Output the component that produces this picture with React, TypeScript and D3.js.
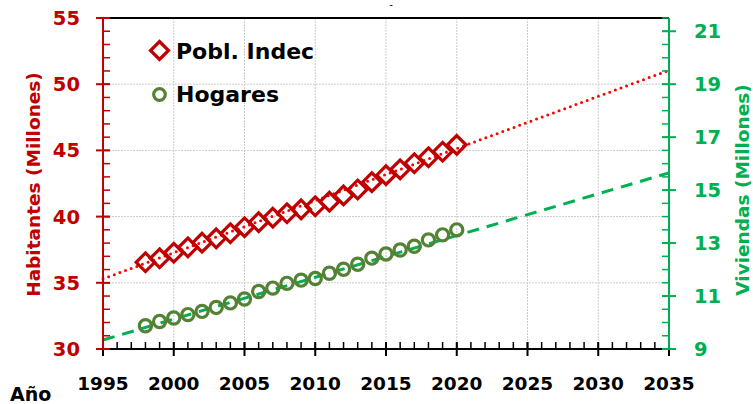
import React from "react";
import * as d3 from "d3";

const years = [1998,1999,2000,2001,2002,2003,2004,2005,2006,2007,2008,2009,2010,2011,2012,2013,2014,2015,2016,2017,2018,2019,2020];
const poblIndec = [36.55,36.85,37.27,37.68,38.03,38.36,38.74,39.2,39.58,39.92,40.25,40.55,40.78,41.13,41.6,42.05,42.6,43.13,43.57,44.03,44.48,44.9,45.42];
const hogares = [9.88,10.04,10.17,10.3,10.42,10.57,10.74,10.89,11.17,11.3,11.48,11.6,11.66,11.86,12.01,12.2,12.43,12.59,12.74,12.88,13.12,13.31,13.5];
const trendYears = [1995, 2035];
const poblTrend = [35.3, 51.05];
const hogaresTrend = [9.34, 15.65];
const xTicks = [1995,2000,2005,2010,2015,2020,2025,2030,2035];
const yLeftTicks = [30,35,40,45,50,55];
const yRightTicks = [9,11,13,15,17,19,21];
const legendLabels = ["Pobl. Indec", "Hogares"];

const W = 753, H = 404;
const L = 103, R = 669, T = 18, B = 349;
const FONT = "'DejaVu Sans', sans-serif";
const RED = "#C00000", GREEN = "#00B050", OLIVE = "#548235";

export default function App() {
  const x = d3.scaleLinear().domain([1995, 2035]).range([L, R]);
  const yL = d3.scaleLinear().domain([30, 55]).range([B, T]);
  const yR = d3.scaleLinear().domain([9, 21.5]).range([B, T]);
  const xMinor = d3.range(1995, 2036, 1);
  const yLMinor = d3.range(30, 56, 1);
  const yRMinor = d3.range(9, 21.51, 0.5);

  const popLine = d3.line<number>().x((_, i) => x(trendYears[i])).y((d) => yL(d));
  const hogLine = d3.line<number>().x((_, i) => x(trendYears[i])).y((d) => yR(d));
  const diamond = (cx: number, cy: number, r: number) =>
    `M${cx},${cy - r}L${cx + r},${cy}L${cx},${cy + r}L${cx - r},${cy}Z`;

  return (
    <svg width={W} height={H} style={{ position: "absolute", left: 0, top: 0, background: "#fff" }} fontFamily={FONT}>
      {/* grid */}
      {xTicks.filter((t) => t > 1995 && t < 2035).map((t) => (
        <line key={"gx" + t} x1={x(t)} x2={x(t)} y1={T} y2={B} stroke="#CCCCCC" strokeWidth={1} strokeDasharray="2,1" />
      ))}
      {yLeftTicks.filter((t) => t > 30 && t < 55).map((t) => (
        <line key={"gy" + t} x1={L} x2={R} y1={yL(t)} y2={yL(t)} stroke="#CCCCCC" strokeWidth={1} strokeDasharray="2,1" />
      ))}
      {/* top border */}
      <line x1={L} x2={R} y1={T} y2={T} stroke="#000" strokeWidth={2} />
      {/* tiny title dash */}
      <text x={391} y={8} fontSize={10} textAnchor="middle" fill="#000">-</text>

      {/* trend lines */}
      <path d={popLine(poblTrend) || ""} fill="none" stroke="#FF0000" strokeWidth={3} strokeDasharray="0,6" strokeLinecap="round" />
      <path d={hogLine(hogaresTrend) || ""} fill="none" stroke={GREEN} strokeWidth={3} strokeDasharray="12,8" />

      {/* markers */}
      {years.map((yr, i) => (
        <path key={"d" + yr} d={diamond(x(yr), yL(poblIndec[i]), 9.3)} fill="none" stroke={RED} strokeWidth={3.2} />
      ))}
      {years.map((yr, i) => (
        <circle key={"c" + yr} cx={x(yr)} cy={yR(hogares[i])} r={6.1} fill="none" stroke={OLIVE} strokeWidth={3.2} />
      ))}

      {/* x axis */}
      <line x1={L} x2={R} y1={B} y2={B} stroke="#000" strokeWidth={2} />
      {xMinor.map((t) => (
        <line key={"xm" + t} x1={x(t)} x2={x(t)} y1={B} y2={B - 7} stroke="#000" strokeWidth={1.5} />
      ))}
      {xTicks.map((t) => (
        <g key={"xt" + t}>
          <line x1={x(t)} x2={x(t)} y1={B - 7} y2={B + 7} stroke="#000" strokeWidth={2} />
          <text x={x(t)} y={390} fontSize={18.5} fontWeight="bold" textAnchor="middle" fill="#000">{t}</text>
        </g>
      ))}
      <text x={10} y={401} fontSize={19} fontWeight="bold" fill="#000">Año</text>

      {/* left axis */}
      <line x1={L} x2={L} y1={T} y2={B} stroke={RED} strokeWidth={2} />
      {yLMinor.map((t) => (
        <line key={"lm" + t} x1={L} x2={L + 7} y1={yL(t)} y2={yL(t)} stroke={RED} strokeWidth={1.5} />
      ))}
      {yLeftTicks.map((t) => (
        <g key={"lt" + t}>
          <line x1={L - 7} x2={L + 7} y1={yL(t)} y2={yL(t)} stroke={RED} strokeWidth={2} />
          <text x={80} y={yL(t)} dy="0.36em" fontSize={19.5} fontWeight="bold" textAnchor="end" fill={RED}>{t}</text>
        </g>
      ))}
      <text transform={`translate(33,${184.5}) rotate(-90)`} fontSize={18.5} fontWeight="bold" textAnchor="middle" dominantBaseline="central" fill={RED}>Habitantes (Millones)</text>

      {/* right axis */}
      <line x1={R} x2={R} y1={T} y2={B} stroke={GREEN} strokeWidth={2} />
      {yRMinor.map((t) => (
        <line key={"rm" + t} x1={R - 7} x2={R} y1={yR(t)} y2={yR(t)} stroke={GREEN} strokeWidth={1.5} />
      ))}
      {yRightTicks.map((t) => (
        <g key={"rt" + t}>
          <line x1={R - 7} x2={R + 7} y1={yR(t)} y2={yR(t)} stroke={GREEN} strokeWidth={2} />
          <text x={694} y={yR(t)} dy="0.36em" fontSize={19.5} fontWeight="bold" textAnchor="start" fill={GREEN}>{t}</text>
        </g>
      ))}
      <text transform={`translate(742,${190}) rotate(-90)`} fontSize={18.5} fontWeight="bold" textAnchor="middle" dominantBaseline="central" fill={GREEN}>Viviendas (Millones)</text>

      {/* legend */}
      <path d={diamond(159.5, 50.5, 9)} fill="none" stroke={RED} strokeWidth={3.2} />
      <text x={176} y={58.5} fontSize={22} fontWeight="bold" fill="#000">{legendLabels[0]}</text>
      <circle cx={159.5} cy={94.5} r={5.8} fill="none" stroke={OLIVE} strokeWidth={3.2} />
      <text x={176} y={102} fontSize={22} fontWeight="bold" fill="#000">{legendLabels[1]}</text>
    </svg>
  );
}
